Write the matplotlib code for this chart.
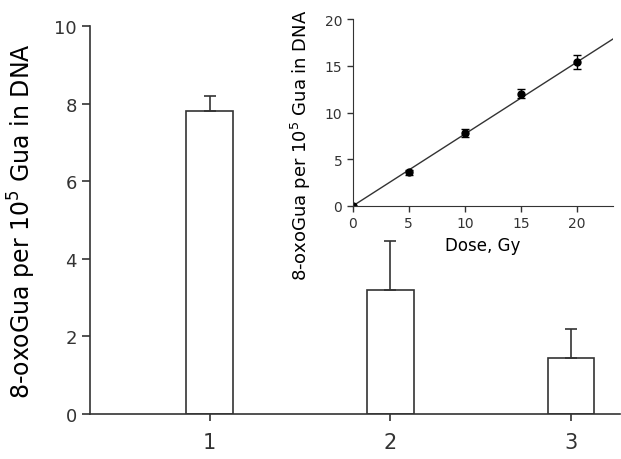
import matplotlib
matplotlib.use("Agg")
import matplotlib.pyplot as plt

# main bar chart
groups = [1, 2, 3]
bar_values = [7.8, 3.2, 1.45]
bar_errors = [0.4, 1.25, 0.75]

# inset: dose response
dose = [0, 5, 10, 15, 20]
oxo = [0.0, 3.6, 7.8, 12.0, 15.4]
oxo_err = [0.0, 0.3, 0.4, 0.5, 0.7]
fit_x = [0, 23.2]
fit_y = [0, 17.86]

ink = '#333333'
plt.rcParams['font.family'] = ['DejaVu Sans']
plt.rcParams['text.color'] = ink
plt.rcParams['axes.edgecolor'] = ink
plt.rcParams['xtick.color'] = ink
plt.rcParams['ytick.color'] = ink

fig = plt.figure(figsize=(6.21, 4.6), dpi=100)
ax = fig.add_axes([0.145, 0.098, 0.853, 0.843])
ax.bar(groups, bar_values, width=0.26, color='white', edgecolor=ink, linewidth=1.2,
       yerr=[[0, 0, 0], bar_errors], error_kw=dict(ecolor=ink, elinewidth=1.2, capsize=4, capthick=1.2))
ax.set_xlim(0.337, 3.27)
ax.set_ylim(0, 10)
ax.set_yticks([0, 2, 4, 6, 8, 10])
ax.set_xticks(groups)
ax.tick_params(axis='y', labelsize=13, direction='out', length=6, width=1.2)
ax.tick_params(axis='x', labelsize=15, direction='out', length=5, width=1.2, pad=8)
for s in ['top', 'right']:
    ax.spines[s].set_visible(False)
for s in ['left', 'bottom']:
    ax.spines[s].set_linewidth(1.2)
ax.set_ylabel('8-oxoGua per 10$^5$ Gua in DNA', fontsize=17, labelpad=12)

ins = fig.add_axes([0.568, 0.55, 0.419, 0.4065])
ins.plot(fit_x, fit_y, color=ink, linewidth=1.0)
ins.errorbar(dose, oxo, yerr=oxo_err, fmt='o', color='black', markersize=5,
             ecolor='black', elinewidth=1.0, capsize=3)
ins.set_xlim(0, 23.2)
ins.set_ylim(0, 20)
ins.set_xticks([0, 5, 10, 15, 20])
ins.set_yticks([0, 5, 10, 15, 20])
ins.tick_params(labelsize=10, direction='out', length=4, width=1.0)
for s in ['top', 'right']:
    ins.spines[s].set_visible(False)
ins.set_xlabel('Dose, Gy', fontsize=12)
ins.set_ylabel('8-oxoGua per 10$^5$ Gua in DNA', fontsize=13)
ins.yaxis.set_label_coords(-0.154, 0.33)
ins.patch.set_alpha(0)

fig.savefig('out.png', dpi=100)
